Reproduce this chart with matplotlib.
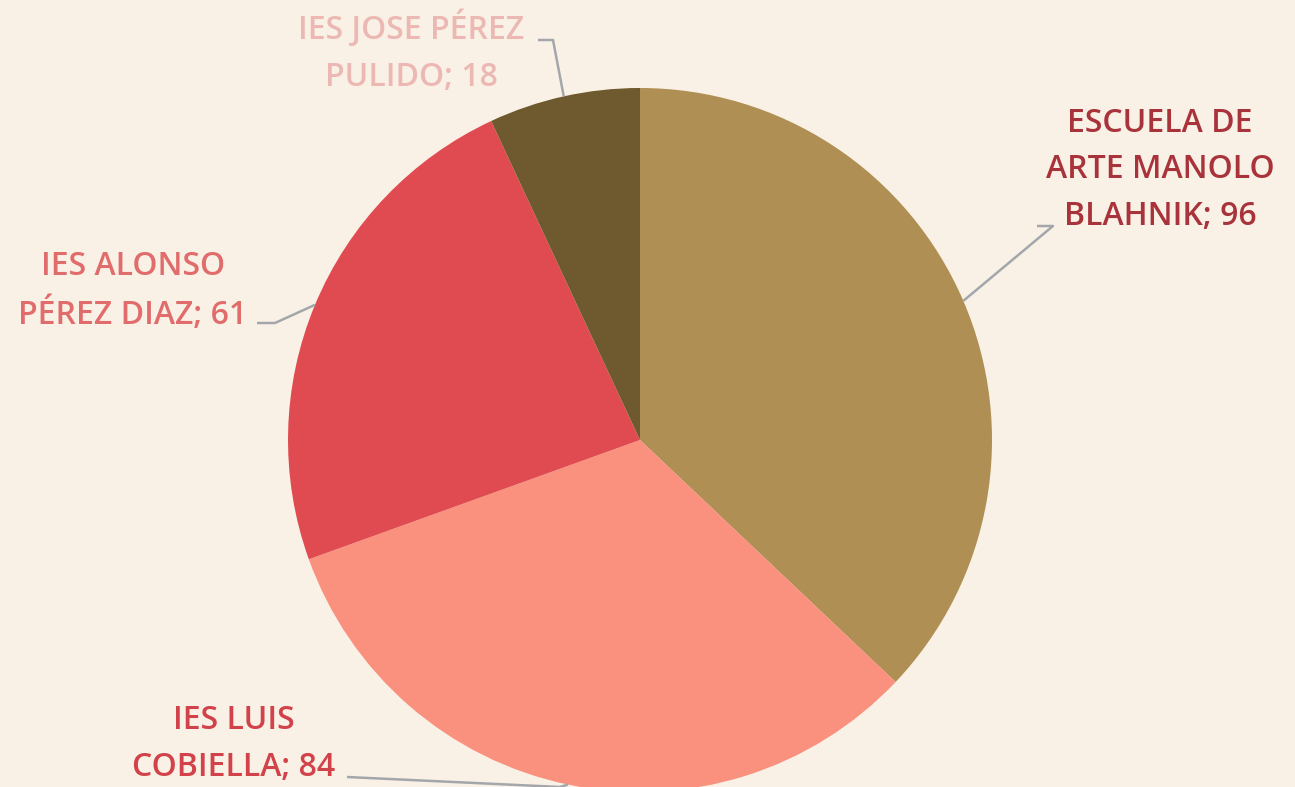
import numpy as np
import matplotlib
matplotlib.use("Agg")
import matplotlib.pyplot as plt

# ---------------------------------------------------------------------------
# Data
# ---------------------------------------------------------------------------
schools = ["ESCUELA DE\nARTE MANOLO\nBLAHNIK", "IES LUIS\nCOBIELLA",
           "IES ALONSO\nPÉREZ DIAZ", "IES JOSE PÉREZ\nPULIDO"]
students = [96, 84, 61, 18]
wedge_colors = ["#AF8F53", "#F9917E", "#E04B51", "#6E5A2E"]
label_colors = ["#A9333B", "#D2424A", "#E06C6C", "#ECB8B3"]

# label layout (pixel units, y from top): text centre, elbow, stub end
label_pos = [(1160, 170), (234, 744), (133, 291), (411, 52)]
stub = [((1053, 226), (1037, 226)), ((560, 787), (347, 777)),
        ((275, 323), (257, 323)), ((553, 40), (538, 40))]

W, H = 1295, 787
BG = "#FAF1E6"
plt.rcParams["font.family"] = ["Open Sans", "DejaVu Sans"]

fig = plt.figure(figsize=(W / 100, H / 100), dpi=100, facecolor=BG)
ax = fig.add_axes([0, 0, 1, 1])
ax.set_xlim(0, W)
ax.set_ylim(0, H)
ax.set_aspect("equal")
ax.axis("off")

cx, cy, r = 640, H - 440, 352
wedges, _ = ax.pie(students, colors=wedge_colors, startangle=90,
                   counterclock=False, center=(cx, cy), radius=r,
                   wedgeprops=dict(linewidth=0))
ax.set_xlim(0, W)
ax.set_ylim(0, H)

for w, name, val, col, (tx, ty), (elbow, end) in zip(
        wedges, schools, students, label_colors, label_pos, stub):
    ang = np.deg2rad((w.theta1 + w.theta2) / 2)
    ex, ey = cx + r * np.cos(ang), cy + r * np.sin(ang)
    ax.plot([ex, elbow[0], end[0]], [ey, H - elbow[1], H - end[1]],
            color="#A3A7AB", lw=1.8, solid_capstyle="butt", clip_on=False)
    ax.text(tx, H - ty, f"{name}; {val}", ha="center", va="center",
            fontsize=23, fontweight="semibold", color=col, linespacing=1.55)

fig.savefig("out.png", dpi=100, facecolor=BG)
